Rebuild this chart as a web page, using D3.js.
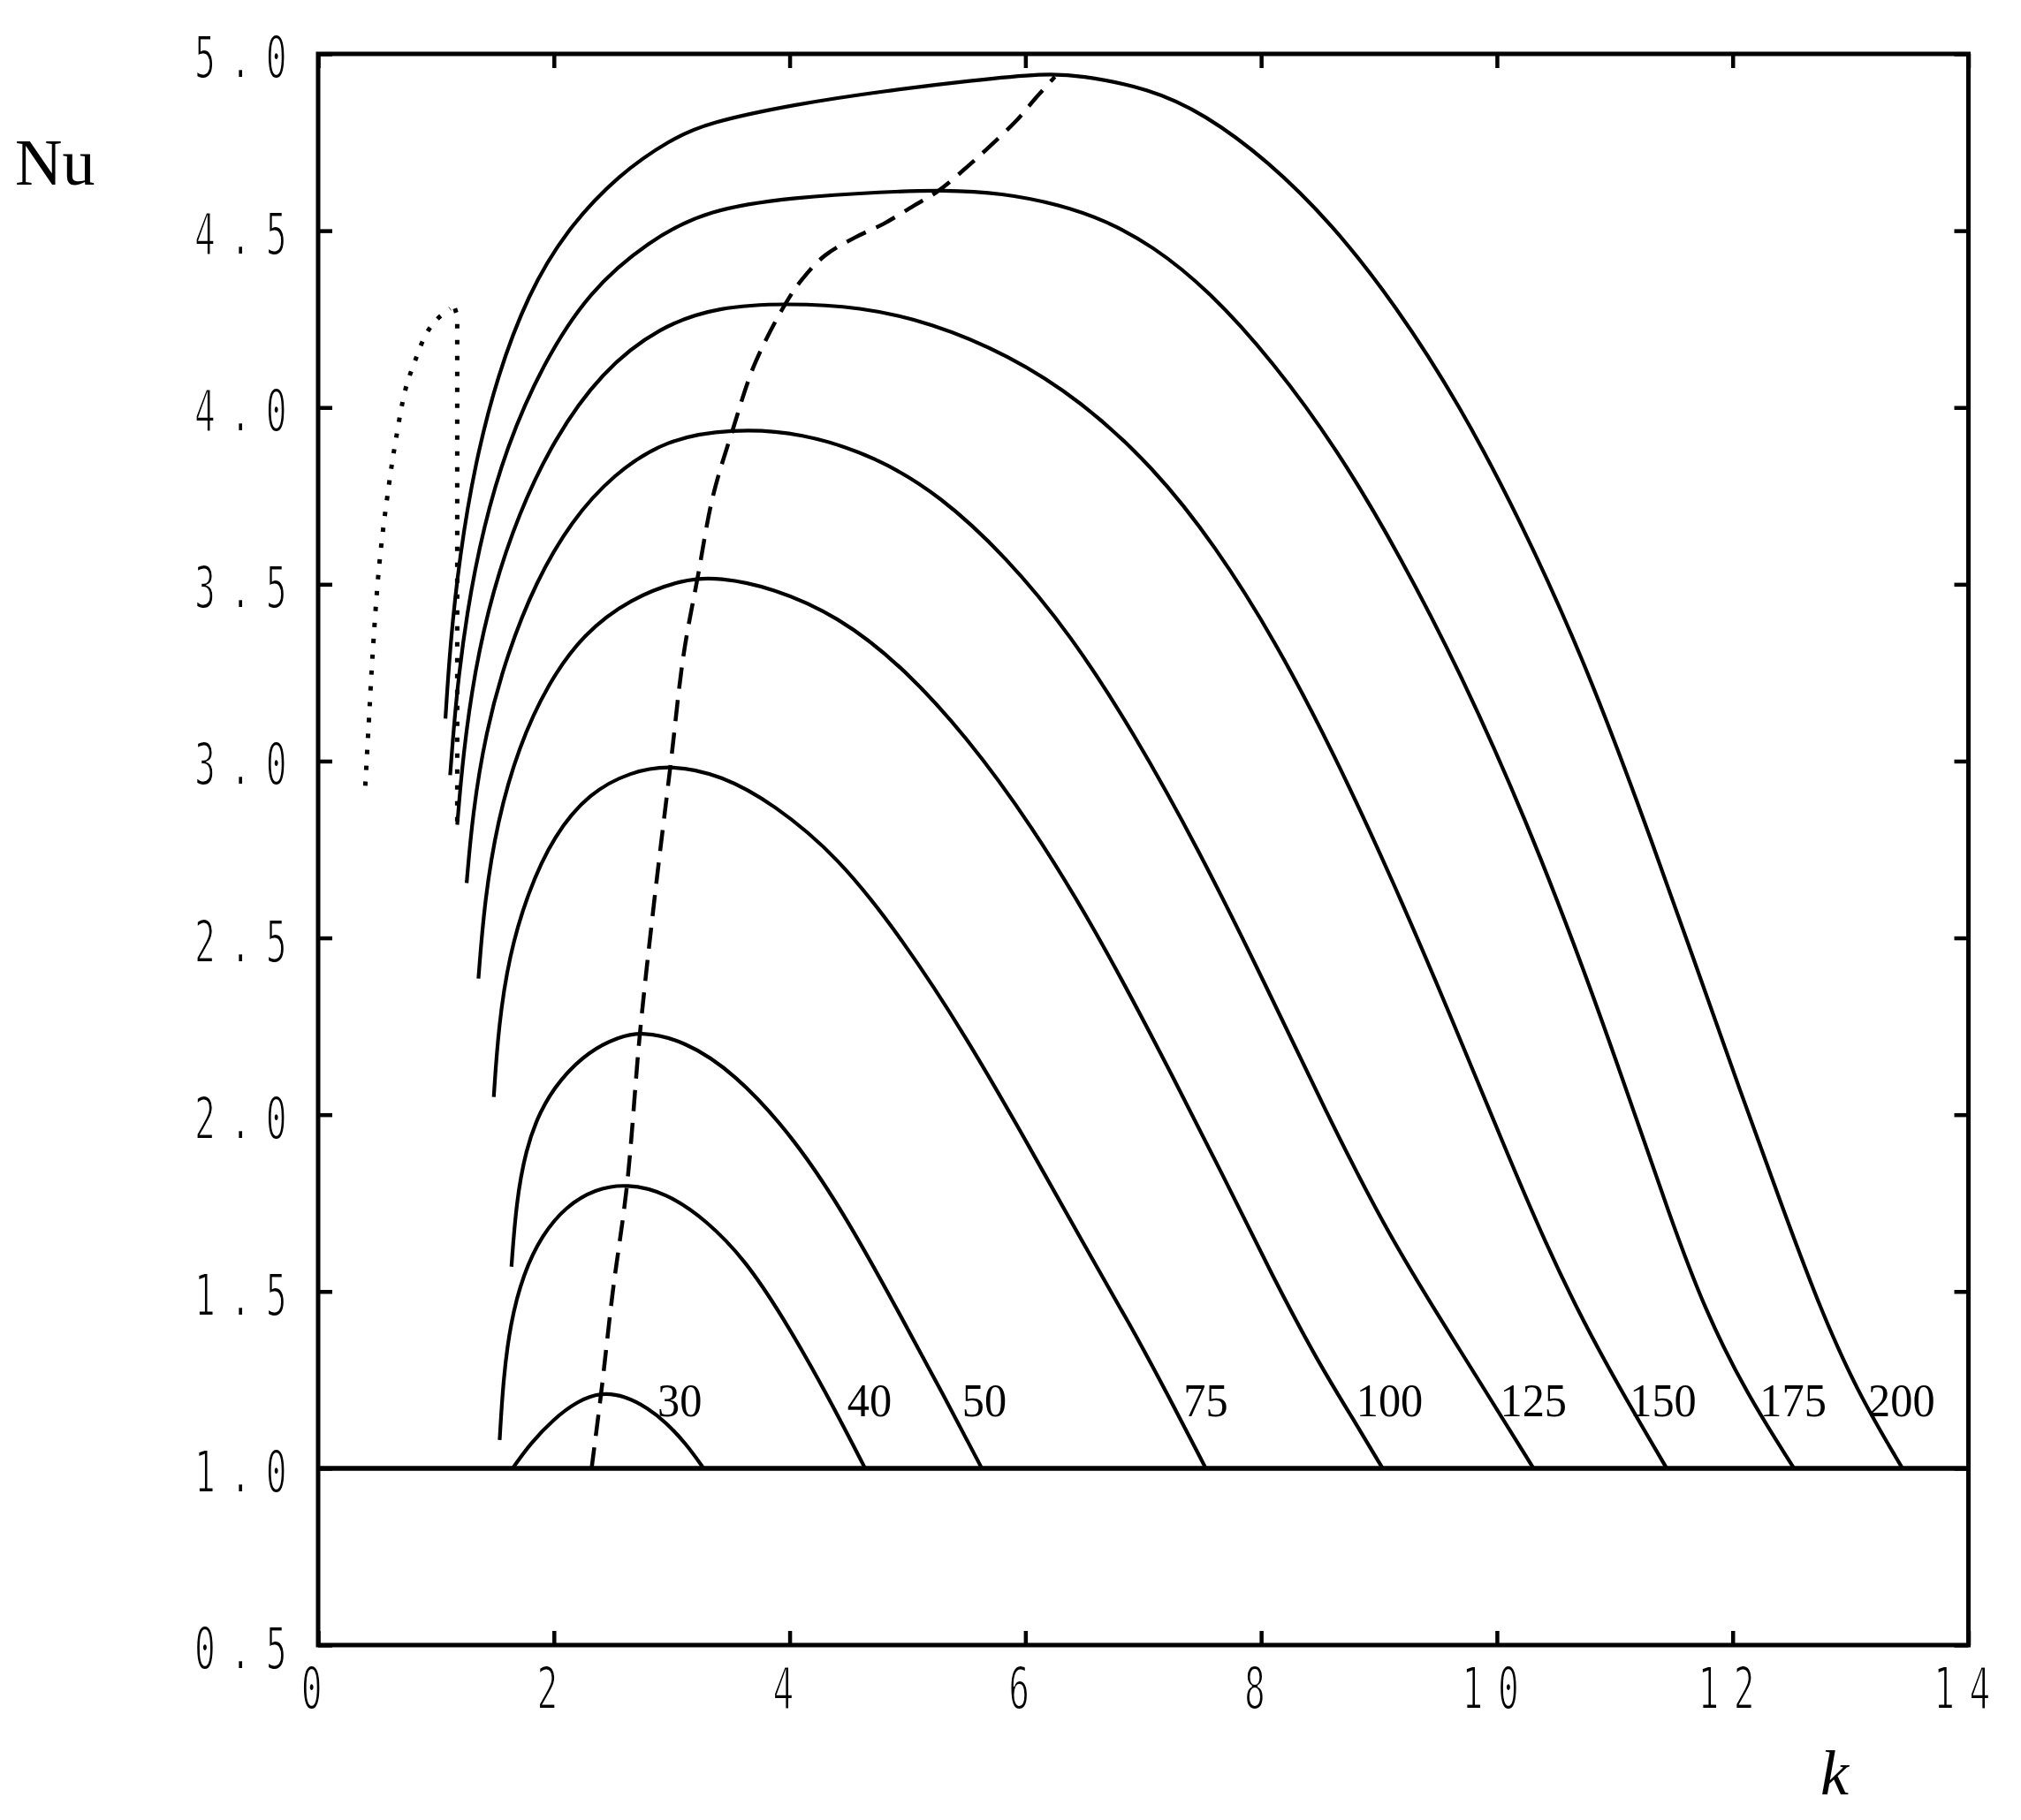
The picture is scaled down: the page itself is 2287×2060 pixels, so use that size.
<!DOCTYPE html>
<html><head><meta charset="utf-8">
<script src="https://cdn.jsdelivr.net/npm/d3@7"></script>
<style>html,body{margin:0;padding:0;background:#fff}svg{display:block}</style>
</head><body>
<svg id="chart" width="2287" height="2060"></svg>
<script>
// ---------- data ----------
const xTicks = [0, 2, 4, 6, 8, 10, 12, 14];
const xTickLabels = ["0", "2", "4", "6", "8", "10", "12", "14"];
const yTicks = [0.5, 1.0, 1.5, 2.0, 2.5, 3.0, 3.5, 4.0, 4.5, 5.0];
const yTickLabels = ["0.5", "1.0", "1.5", "2.0", "2.5", "3.0", "3.5", "4.0", "4.5", "5.0"];
const xTitle = "k";
const yTitle = "Nu";
const curveNames = ["30", "40", "50", "75", "100", "125", "150", "175", "200"];

const k30 = [1.65, 1.80, 2.00, 2.20, 2.40, 2.60, 2.80, 2.95, 3.12, 3.27];
const nu30 = [1.00, 1.07, 1.14, 1.19, 1.215, 1.205, 1.17, 1.13, 1.07, 1.00];

const k40 = [1.54, 1.57, 1.63, 1.74, 1.90, 2.10, 2.35, 2.62, 2.95, 3.30, 3.62, 3.94, 4.30, 4.64];
const nu40 = [1.08, 1.25, 1.41, 1.55, 1.66, 1.74, 1.79, 1.805, 1.78, 1.70, 1.59, 1.43, 1.22, 1.00];

const k50 = [1.64, 1.68, 1.76, 1.88, 2.05, 2.30, 2.55, 2.75, 3.10, 3.53, 4.05, 4.50, 4.96, 5.30, 5.63];
const nu50 = [1.57, 1.75, 1.90, 2.01, 2.10, 2.18, 2.22, 2.235, 2.21, 2.12, 1.93, 1.70, 1.42, 1.21, 1.00];

const k75 = [1.49, 1.53, 1.62, 1.78, 2.00, 2.30, 2.65, 3.00, 3.42, 3.86, 4.41, 4.95, 5.50, 6.05, 6.50, 6.90, 7.22, 7.53];
const nu75 = [2.05, 2.25, 2.45, 2.63, 2.79, 2.91, 2.97, 2.99, 2.96, 2.88, 2.73, 2.50, 2.22, 1.90, 1.63, 1.40, 1.20, 1.00];

const k100 = [1.36, 1.41, 1.52, 1.70, 1.95, 2.25, 2.65, 3.10, 3.40, 3.86, 4.41, 4.95, 5.50, 6.05, 6.60, 7.14, 7.69, 8.10, 8.50, 8.78, 9.03];
const nu100 = [2.385, 2.60, 2.83, 3.04, 3.22, 3.36, 3.46, 3.515, 3.52, 3.49, 3.41, 3.27, 3.07, 2.82, 2.52, 2.18, 1.82, 1.54, 1.29, 1.14, 1.00];

const k125 = [1.26, 1.31, 1.42, 1.60, 1.85, 2.15, 2.50, 2.95, 3.50, 4.10, 4.74, 5.28, 5.83, 6.38, 6.92, 7.47, 8.02, 8.56, 9.05, 9.45, 9.90, 10.31];
const nu125 = [2.655, 2.85, 3.08, 3.30, 3.51, 3.68, 3.81, 3.91, 3.94, 3.93, 3.86, 3.75, 3.58, 3.36, 3.08, 2.75, 2.38, 2.00, 1.68, 1.46, 1.22, 1.00];

const k150 = [1.18, 1.23, 1.33, 1.48, 1.70, 2.00, 2.40, 2.90, 3.40, 3.97, 4.60, 5.20, 5.85, 6.47, 7.09, 7.61, 8.12, 8.62, 9.12, 9.62, 10.05, 10.42, 10.74, 11.07, 11.44];
const nu150 = [2.82, 3.02, 3.26, 3.48, 3.70, 3.91, 4.10, 4.23, 4.285, 4.295, 4.285, 4.24, 4.15, 4.02, 3.83, 3.61, 3.34, 3.02, 2.66, 2.27, 1.92, 1.63, 1.41, 1.21, 1.00];

const k175 = [1.12, 1.17, 1.26, 1.40, 1.60, 1.90, 2.30, 2.80, 3.30, 4.05, 4.80, 5.30, 5.80, 6.30, 6.67, 7.07, 7.56, 8.10, 8.65, 9.18, 9.72, 10.24, 10.74, 11.12, 11.47, 11.76, 12.12, 12.52];
const nu175 = [2.96, 3.18, 3.42, 3.66, 3.89, 4.12, 4.33, 4.47, 4.56, 4.595, 4.61, 4.615, 4.607, 4.573, 4.53, 4.46, 4.33, 4.13, 3.88, 3.58, 3.23, 2.84, 2.41, 2.05, 1.71, 1.45, 1.21, 1.00];

const k200 = [1.08, 1.12, 1.20, 1.33, 1.52, 1.78, 2.10, 2.55, 3.00, 3.30, 4.05, 4.80, 5.55, 6.17, 6.45, 7.05, 7.52, 8.05, 8.60, 9.14, 9.68, 10.20, 10.72, 11.20, 11.68, 12.06, 12.42, 12.72, 13.05, 13.44];
const nu200 = [3.12, 3.33, 3.58, 3.84, 4.09, 4.32, 4.50, 4.66, 4.76, 4.805, 4.858, 4.895, 4.925, 4.945, 4.94, 4.903, 4.83, 4.70, 4.52, 4.29, 4.01, 3.68, 3.30, 2.88, 2.43, 2.07, 1.74, 1.47, 1.22, 1.00];

// locus of maxima (dashed)
const kMax = [2.32, 2.40, 2.50, 2.62, 2.73, 2.85, 2.99, 3.10, 3.22, 3.35, 3.52, 3.70, 3.95, 4.10, 4.30, 4.55, 4.80, 5.05, 5.25, 5.47, 5.67, 5.92, 6.10, 6.25];
const nuMax = [1.00, 1.21, 1.50, 1.80, 2.23, 2.60, 2.99, 3.30, 3.52, 3.75, 3.94, 4.12, 4.285, 4.36, 4.43, 4.48, 4.52, 4.57, 4.61, 4.67, 4.73, 4.81, 4.88, 4.935];

// dotted boundary
const kDotA = [0.40, 0.43, 0.46, 0.52, 0.60, 0.66, 0.74, 0.82, 0.92, 1.01, 1.12];
const nuDotA = [2.93, 3.11, 3.29, 3.56, 3.78, 3.91, 4.05, 4.13, 4.21, 4.25, 4.28];
const kDotB = [1.16, 1.18, 1.18];
const nuDotB = [4.28, 4.26, 2.82];

// conduction state Nu = 1
const kBase = [0, 14];
const nuBase = [1, 1];

const curveK = [k30, k40, k50, k75, k100, k125, k150, k175, k200];
const curveNu = [nu30, nu40, nu50, nu75, nu100, nu125, nu150, nu175, nu200];

// ---------- layout ----------
const W = 2287, H = 2060;
const L = 360, R = 2227.5, T = 61, B = 1862;
const labelDx = [-27, 5, 3, 0, 8, 0, -4, -1, -1];
const labelBaseline = 1603;

const svg = d3.select("#chart");
svg.append("rect").attr("width", W).attr("height", H).attr("fill", "#fff");

const x = d3.scaleLinear().domain([0, 14]).range([L, R]);
const y = d3.scaleLinear().domain([0.5, 5]).range([B, T]);

const zip = (ks, ns) => ks.map((k, i) => [k, ns[i]]);
const smooth = d3.line().x(d => x(d[0])).y(d => y(d[1])).curve(d3.curveBasis);
const smoothC = d3.line().x(d => x(d[0])).y(d => y(d[1])).curve(d3.curveCatmullRom.alpha(0.5));
const straight = d3.line().x(d => x(d[0])).y(d => y(d[1]));

// ticks (inward) via d3 axes
const tl = 16;
function axisG(axis, tx, ty) {
  const g = svg.append("g").attr("transform", `translate(${tx},${ty})`).call(axis);
  g.select(".domain").remove();
  g.selectAll("line").attr("stroke", "#000").attr("stroke-width", 4.5);
  g.selectAll("text").remove();
  return g;
}
axisG(d3.axisBottom(x).tickValues(xTicks).tickSize(-tl).tickFormat(""), 0, B);
axisG(d3.axisTop(x).tickValues(xTicks).tickSize(-tl).tickFormat(""), 0, T);
axisG(d3.axisLeft(y).tickValues(yTicks).tickSize(-tl).tickFormat(""), L, 0);
axisG(d3.axisRight(y).tickValues(yTicks).tickSize(-tl).tickFormat(""), R, 0);

// frame
svg.append("rect").attr("x", L).attr("y", T).attr("width", R - L).attr("height", B - T)
  .attr("fill", "none").attr("stroke", "#000").attr("stroke-width", 5);

// tick labels (tall condensed monospace)
const tickFont = { family: "'DejaVu Sans Mono', 'Liberation Mono', monospace", size: 66, sx: 0.6, ls: 27.5 };
function tickLabel(tx, ty, str, anchor) {
  svg.append("g").attr("transform", `translate(${tx},${ty}) scale(${tickFont.sx},1)`)
    .append("text").attr("x", 0).attr("y", 0)
    .attr("text-anchor", anchor)
    .style("font-family", tickFont.family).style("font-size", tickFont.size + "px")
    .style("letter-spacing", tickFont.ls + "px")
    .attr("fill", "#000").attr("stroke", "#fff").attr("stroke-width", 2)
    .text(str);
}
xTicks.forEach((v, i) => tickLabel(x(v) + 1, B + 72, xTickLabels[i], "middle"));
yTicks.forEach((v, i) => tickLabel(341, y(v) + 27, yTickLabels[i], "end"));

// base line Nu = 1
svg.append("path").attr("d", straight(zip(kBase, nuBase)))
  .attr("fill", "none").attr("stroke", "#000").attr("stroke-width", 5.5);

// solid curves
curveK.forEach((ks, i) => {
  svg.append("path").attr("d", smooth(zip(ks, curveNu[i])))
    .attr("fill", "none").attr("stroke", "#000").attr("stroke-width", 4.2)
    .attr("stroke-linejoin", "round");
});

// dashed locus
svg.append("path").attr("d", smoothC(zip(kMax, nuMax)))
  .attr("fill", "none").attr("stroke", "#000").attr("stroke-width", 4.5)
  .attr("stroke-dasharray", "24,13");

// dotted boundary
svg.append("path").attr("d", smoothC(zip(kDotA, nuDotA)))
  .attr("fill", "none").attr("stroke", "#000").attr("stroke-width", 5)
  .attr("stroke-dasharray", "5,13");
svg.append("path").attr("d", straight(zip(kDotB, nuDotB)))
  .attr("fill", "none").attr("stroke", "#000").attr("stroke-width", 5)
  .attr("stroke-dasharray", "5,13");

// curve labels
curveK.forEach((ks, i) => {
  const kEnd = ks[ks.length - 1];
  svg.append("g").attr("transform", `translate(${x(kEnd) + labelDx[i]},${labelBaseline}) scale(0.95,1)`)
    .append("text").attr("text-anchor", "middle")
    .style("font-family", "'Liberation Serif', 'Times New Roman', serif").style("font-size", "53px")
    .attr("fill", "#000").text(curveNames[i]);
});

// axis titles
svg.append("text").attr("x", 17).attr("y", 209)
  .style("font-family", "'Liberation Serif', 'Times New Roman', serif").style("font-size", "74px")
  .attr("fill", "#000").text(yTitle);
svg.append("text").attr("x", 2060).attr("y", 2031)
  .style("font-family", "'Liberation Serif', 'Times New Roman', serif").style("font-size", "72px")
  .style("font-style", "italic").attr("fill", "#000").text(xTitle);
</script>
</body></html>
